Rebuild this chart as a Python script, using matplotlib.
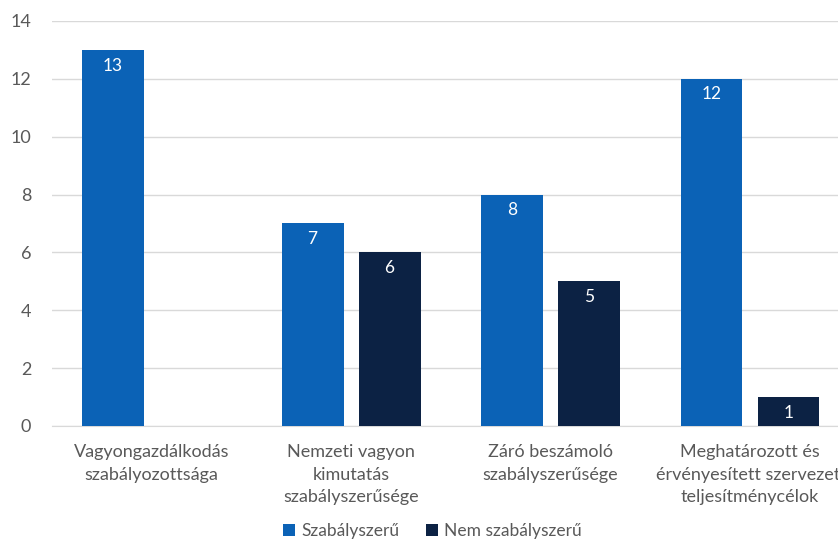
import numpy as np
import matplotlib
matplotlib.use("Agg")
import matplotlib.pyplot as plt

categories = [
    "Vagyongazdálkodás\nszabályozottsága",
    "Nemzeti vagyon\nkimutatás\nszabályszerűsége",
    "Záró beszámoló\nszabályszerűsége",
    "Meghatározott és\nérvényesített szervezeti\nteljesítménycélok",
]
series_names = ["Szabályszerű", "Nem szabályszerű"]
szabalyszeru = [13, 7, 8, 12]
nem_szabalyszeru = [0, 6, 5, 1]
y_ticks = [0, 2, 4, 6, 8, 10, 12, 14]

BLUE = "#0b62b6"
NAVY = "#0c2244"
GRID = "#d9d9d9"
TXT = "#595959"

plt.rcParams["font.family"] = ["Lato", "DejaVu Sans"]

fig = plt.figure(figsize=(8.38, 5.41), dpi=100)
# plot area runs slightly past the right edge of the canvas
ax = fig.add_axes([0.062, 0.2126, 0.952, 0.7486])

x = np.arange(len(categories))
w = 0.31
off = 0.193
b1 = ax.bar(x - off, szabalyszeru, w, color=BLUE, label=series_names[0], zorder=3)
b2 = ax.bar(x + off, nem_szabalyszeru, w, color=NAVY, label=series_names[1], zorder=3)

for bars, vals in ((b1, szabalyszeru), (b2, nem_szabalyszeru)):
    for r, v in zip(bars, vals):
        if v == 0:
            continue
        ax.annotate(str(v), (r.get_x() + r.get_width() / 2, v),
                    xytext=(0, -5.5), textcoords="offset points",
                    ha="center", va="top", color="white", fontsize=12.5, zorder=4)

ax.set_xlim(-0.5, len(categories) - 0.5)
ax.set_ylim(0, 14)
ax.set_yticks(y_ticks)
ax.yaxis.grid(True, color=GRID, lw=1, zorder=0)
ax.set_axisbelow(True)
for s in ("top", "right", "left"):
    ax.spines[s].set_visible(False)
ax.spines["bottom"].set_color(GRID)
ax.tick_params(axis="both", length=0, colors=TXT, labelsize=13)
ax.tick_params(axis="y", pad=15)
ax.tick_params(axis="x", pad=13)
ax.set_xticks(x)
ax.set_xticklabels(categories, linespacing=1.5)

fig.legend(handles=[b1, b2], labels=series_names, loc="center",
           bbox_to_anchor=(0.516, 0.018), ncol=2, frameon=False,
           fontsize=12.5, labelcolor=TXT, handlelength=0.7, handleheight=0.7,
           handletextpad=0.35, columnspacing=1.5)

fig.savefig("out.png", dpi=100)
